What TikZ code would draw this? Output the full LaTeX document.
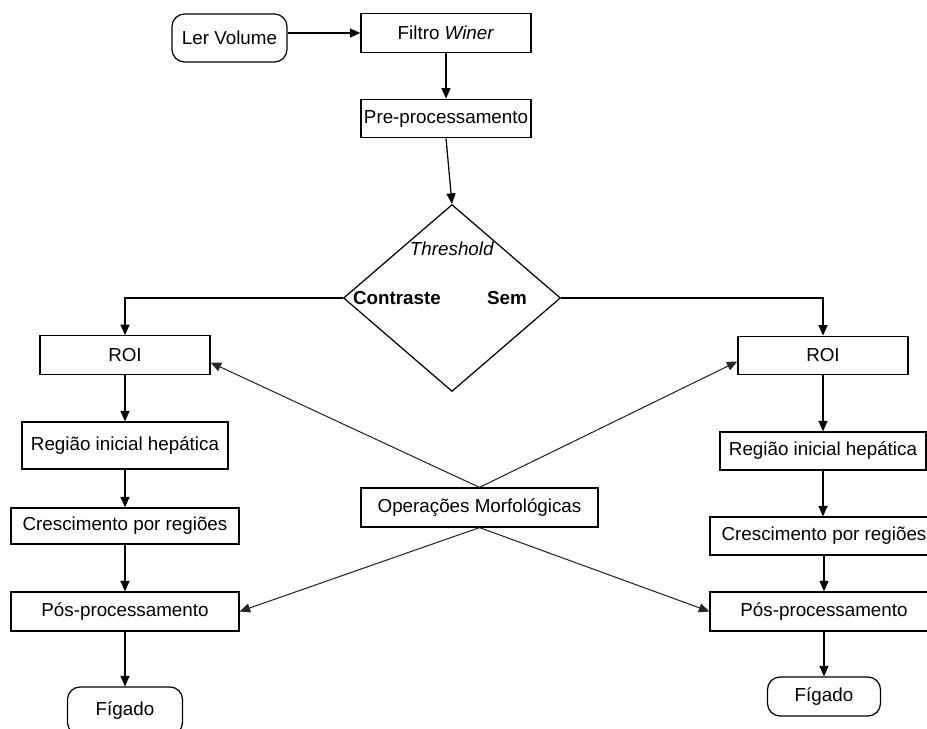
\documentclass[tikz,border=0pt]{standalone}
\usepackage{fontspec}
\setmainfont{Liberation Sans}
\usetikzlibrary{shapes.geometric,arrows.meta}

\tikzset{
  box/.style={draw,rectangle,inner sep=0pt,minimum width=3.4cm,minimum height=0.77cm},
  term/.style={box,rounded corners=2.5mm,minimum width=2.3cm,minimum height=0.96cm},
  flow/.style={-{Triangle[length=2.1mm,width=1.8mm]},line width=0.7pt},
  slant/.style={flow,draw=black!85,line width=0.6pt}
}

\begin{document}
\begin{tikzpicture}[x=0.02cm,y=-0.02cm,line width=0.7pt,
  every node/.append style={font=\fontsize{10.7}{13}\selectfont}]

\useasboundingbox (0,0) rectangle (927,729);

\node[term] (lervol) at (229.5,38) {Ler Volume};
\node[box] (filtro) at (446,33) {Filtro \textit{Winer}};
\node[box] (pre) at (446,118.5) {Pre-processamento};
\node[draw,diamond,inner sep=0pt,minimum width=4.34cm,minimum height=3.74cm] (thresh) at (452,298) {};

\node (thr) at (452,249) {\textit{Threshold}};
\node (contr) at (397,298) {\textbf{Contraste}};
\node (sem) at (507,298) {\textbf{Sem}};

\node[box] (roiL) at (125,355) {ROI};
\node[box,minimum width=4.12cm,minimum height=0.94cm] (regL) at (125,445.5) {Região inicial hepática};
\node[box,minimum width=4.56cm,minimum height=0.72cm] (cresL) at (125,526) {Crescimento por regiões};
\node[box,minimum width=4.56cm,minimum height=0.78cm] (posL) at (125,611.5) {Pós-processamento};
\node[term] (figL) at (125,711) {Fígado};

\node[box] (roiR) at (823,355.5) {ROI};
\node[box,minimum width=4.12cm,minimum height=0.76cm] (regR) at (823,451) {Região inicial hepática};
\node[box,minimum width=4.56cm,minimum height=0.76cm] (cresR) at (824,536) {Crescimento por regiões};
\node[box,minimum width=4.56cm,minimum height=0.78cm] (posR) at (824,611.5) {Pós-processamento};
\node[term,minimum width=2.26cm,minimum height=0.78cm] (figR) at (824,696.5) {Fígado};

\node[box,minimum width=4.74cm,minimum height=0.78cm] (morf) at (479.5,507.5) {Operações Morfológicas};

\draw[flow] (lervol.east |- filtro.west) -- (filtro.west);
\draw[flow] (filtro) -- (pre);
\draw[flow] (pre.south) -- (thresh.north);

\draw[flow] (thresh.west) -| (roiL.north);
\draw[flow] (thresh.east) -| (roiR.north);

\draw[flow] (roiL) -- (regL);
\draw[flow] (regL) -- (cresL);
\draw[flow] (cresL) -- (posL);
\draw[flow] (posL) -- (figL);

\draw[flow] (roiR) -- (regR);
\draw[flow] (regR.south) -- (cresR.north -| regR.south);
\draw[flow] (cresR) -- (posR);
\draw[flow] (posR) -- (figR);

\draw[slant] (morf.north) -- (roiL.-5);
\draw[slant] (morf.north) -- (roiR.184);
\draw[slant] (morf.south) -- (posL.east);
\draw[slant] (morf.south) -- (posR.west);
\end{tikzpicture}
\end{document}
